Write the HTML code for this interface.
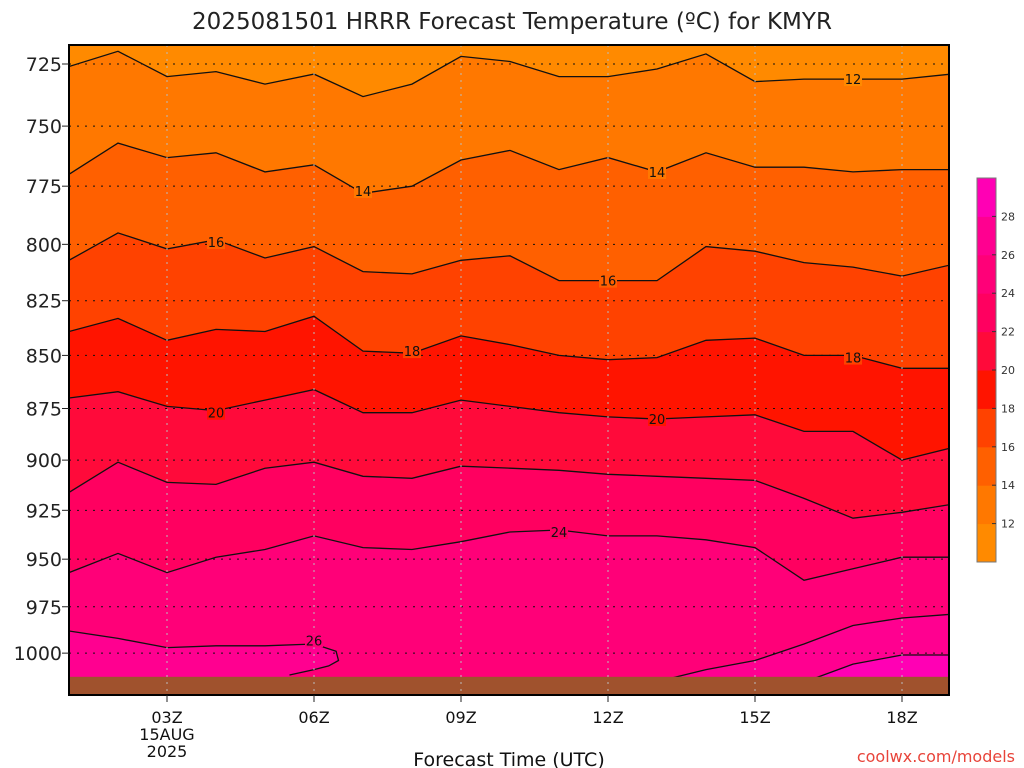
<!DOCTYPE html>
<html><head><meta charset="utf-8"><style>
body{margin:0;background:#fff;}
svg{display:block;font-family:"DejaVu Sans","Liberation Sans",sans-serif;}
</style></head><body>
<svg id="chart" width="1024" height="768" viewBox="0 0 1024 768">
<text x="512" y="29" text-anchor="middle" font-size="23" fill="#222">2025081501 HRRR Forecast Temperature (ºC) for KMYR</text>
<g id="plot"></g>
<g id="axes"></g>
<text x="509" y="766" text-anchor="middle" font-size="19" fill="#111">Forecast Time (UTC)</text>
<text x="1015" y="762" text-anchor="end" font-size="16" fill="#e8443a">coolwx.com/models</text>
</svg>
<script>
const hours=[1,2,3,4,5,6,7,8,9,10,11,12,13,14,15,16,17,18,19];
const levels=[12,14,16,18,20,22,24];
const c12=[726,720,730,728,733,729,738,733,722,724,730,730,727,721,732,731,731,731,729];
const c14=[770,757,763,761,769,766,778,775,764,760,768,763,769,761,767,767,769,768,768];
const c16=[807,795,802,798,806,801,812,813,807,805,816,816,816,801,803,808,810,814,809];
const c18=[839,833,843,838,839,832,848,849,841,845,850,852,851,843,842,850,850,856,856];
const c20=[870,867,874,876,871,866,877,877,871,874,877,879,880,879,878,886,886,900,894];
const c22=[916,901,911,912,904,901,908,909,903,904,905,907,908,909,910,919,929,926,922];
const c24=[957,947,957,949,945,938,944,945,941,936,935,938,938,940,944,961,955,949,949];
const left26Hours=[1,2,3,4,5,6,6.45,6.5,6.3,6.0,5.5];
const left26P=[988,992,997,996,996,995,999,1004,1007,1009,1012];
const right26Hours=[12.8,14,15,16,17,18,19];
const right26P=[1017,1009,1004,995,985,981,979];
const right28Hours=[15.9,17,18,19];
const right28P=[1017,1006,1001,1001];
const groundP=1013;
const pTicks=[725,750,775,800,825,850,875,900,925,950,975,1000];
const xTickHours=[3,6,9,12,15,18];
const xTickLabels=["03Z","06Z","09Z","12Z","15Z","18Z"];
const labels=[[12,17,731],[14,7,777],[14,13,769],[16,4,799],[16,12,816],[18,8,848],[18,17,851],[20,4,877],[20,13,880],[24,11,936],[26,6,993]];
const colors={10:"#ff8a00",12:"#ff7800",14:"#ff6000",16:"#ff4200",18:"#ff1400",20:"#ff0a3a",22:"#ff0060",24:"#ff0078",26:"#ff0090",28:"#ff00b4"};
const cbLevels=[12,14,16,18,20,22,24,26,28];

const X0=69,X1=949,Y0=45,Y1=695;
const x=h=>X0+(h-1)*49;
const y=p=>64+Math.log(p/725)*1832;
const NS="http://www.w3.org/2000/svg";
const plot=document.getElementById('plot'),axes=document.getElementById('axes');
function mk(tag,at,parent){const e=document.createElementNS(NS,tag);for(const k in at)e.setAttribute(k,at[k]);parent.appendChild(e);return e;}
const clip=mk('clipPath',{id:'cp'},plot);mk('rect',{x:X0,y:Y0,width:X1-X0,height:Y1-Y0},clip);
const g=mk('g',{'clip-path':'url(#cp)'},plot);
const bg=mk('rect',{x:X0,y:Y0,width:X1-X0,height:Y1-Y0,fill:colors[10]},g);


const series=[c12,c14,c16,c18,c20,c22,c24];
function ptsOf(hs,ps){return hs.map((h,i)=>x(h).toFixed(1)+','+y(ps[i]).toFixed(1));}
series.forEach((arr,i)=>{
  const pts=ptsOf(hours,arr);
  const poly=mk('polygon',{points:pts.join(' ')+' '+x(19)+','+(Y1+5)+' '+x(1)+','+(Y1+5),fill:colors[levels[i]]},g);
  
  
});
// 26 regions
const l26=ptsOf(left26Hours,left26P);
const pl=mk('polygon',{points:l26.join(' ')+' '+x(5.5)+','+Y1+' '+x(1)+','+Y1,fill:colors[26]},g);


const r26=ptsOf(right26Hours,right26P);
const pr=mk('polygon',{points:r26.join(' ')+' '+x(19)+','+Y1+' '+x(12.8)+','+Y1,fill:colors[26]},g);


const r28=ptsOf(right28Hours,right28P);
const pr2=mk('polygon',{points:r28.join(' ')+' '+x(19)+','+Y1+' '+x(15.9)+','+Y1,fill:colors[28]},g);


// contour lines
series.forEach((arr,i)=>{
  const l=mk('polyline',{points:ptsOf(hours,arr).join(' '),fill:'none',stroke:'#111','stroke-width':1.3},g);
  
  
});
[[l26,'contour-26-left'],[r26,'contour-26-right'],[r28,'contour-28']].forEach(([p,n])=>{
  const l=mk('polyline',{points:p.join(' '),fill:'none',stroke:'#111','stroke-width':1.3},g);
  
  
});
// ground
const gr=mk('rect',{x:X0,y:y(groundP),width:X1-X0,height:Y1-y(groundP)+2,fill:'#a0522d'},g);


// grid
pTicks.forEach(p=>{
  const l=mk('line',{x1:X0,x2:X1,y1:y(p),y2:y(p),stroke:'#111','stroke-width':1,'stroke-dasharray':'2,6'},g);
  
  
});
xTickHours.forEach(h=>{
  const l=mk('line',{x1:x(h),x2:x(h),y1:Y0,y2:Y1,stroke:'#bbb','stroke-width':1,'stroke-dasharray':'2,5'},g);
  
  
});
// contour labels
labels.forEach(([v,h,p])=>{
  const col=colors[v]||colors[24];
  const r=mk('rect',{x:x(h)-9,y:y(p)-7,width:18,height:14,fill:colors[v-2]},g);
  
  
  const t=mk('text',{x:x(h),y:y(p)+5,'text-anchor':'middle','font-size':13,fill:'#111'},g);
  t.textContent=v;
  
  
});
// frame
const fr=mk('rect',{x:X0,y:Y0,width:X1-X0,height:Y1-Y0,fill:'none',stroke:'#000','stroke-width':2},axes);


pTicks.forEach(p=>{
  const t=mk('text',{x:62,y:y(p)+7,'text-anchor':'end','font-size':19,fill:'#222'},axes);
  t.textContent=p;
  
  
  mk('line',{x1:62,x2:69,y1:y(p),y2:y(p),stroke:'#222'},axes);
});
xTickHours.forEach((h,i)=>{
  mk('line',{x1:x(h),x2:x(h),y1:Y1,y2:Y1+7,stroke:'#222'},axes);
  const t=mk('text',{x:x(h),y:723,'text-anchor':'middle','font-size':16,fill:'#111'},axes);
  t.textContent=xTickLabels[i];
  
  
});
[["15AUG",740],["2025",757]].forEach(([s,yy])=>{
  const t=mk('text',{x:x(3),y:yy,'text-anchor':'middle','font-size':16,fill:'#111'},axes);
  t.textContent=s;
  
  
});
// colorbar
const CB0=178,CBH=38.4;
const cbVals=[10].concat(cbLevels);
cbVals.forEach((v,i)=>{
  const r=mk('rect',{x:977,y:CB0+(cbVals.length-1-i)*CBH,width:19,height:CBH+0.5,fill:colors[v]},axes);
  
  
});
mk('rect',{x:977,y:CB0,width:19,height:CBH*10,fill:'none',stroke:'#777','stroke-width':1},axes);
cbLevels.forEach((v,i)=>{
  const yy=CB0+(cbVals.length-1-i-0)*CBH;
  if(v%2===0&&v<=28){
    mk('line',{x1:992,x2:996,y1:yy,y2:yy,stroke:'#333'},axes);
    const t=mk('text',{x:1001,y:yy+4,'font-size':11,fill:'#333'},axes);
    t.textContent=v;
    
    
  }
});
</script>
</body></html>
